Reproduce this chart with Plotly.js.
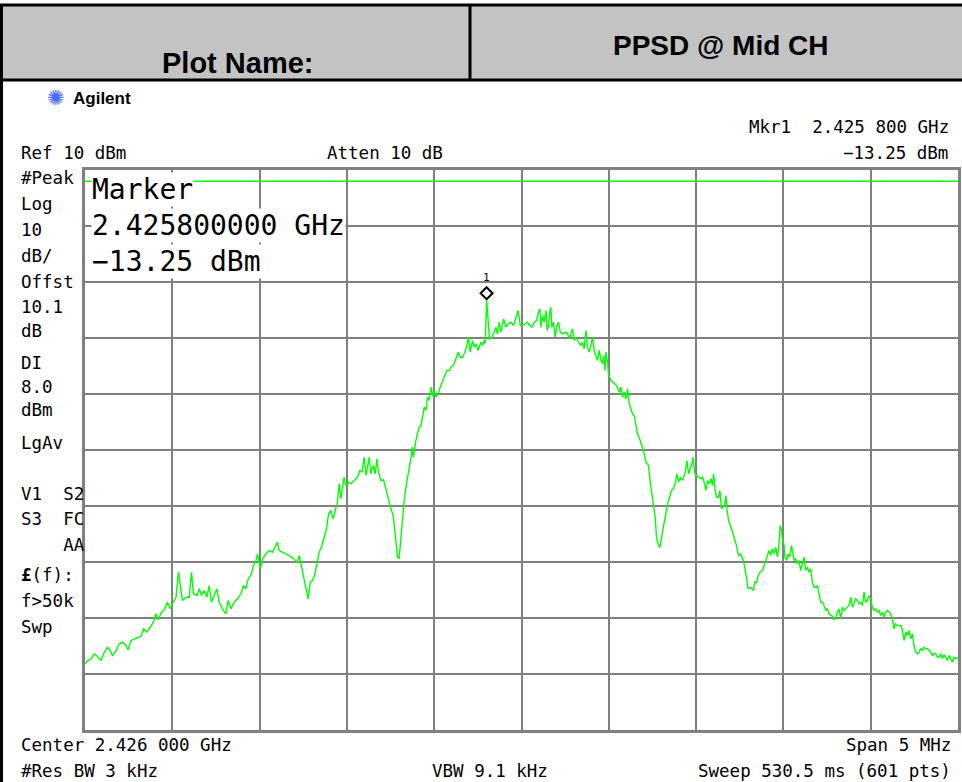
<!DOCTYPE html>
<html>
<head>
<meta charset="utf-8">
<script src="https://cdn.plot.ly/plotly-3.0.1.min.js"></script>
<style>
  html, body { margin: 0; padding: 0; background: #ffffff; }
  #chart { width: 962px; height: 782px; }
</style>
</head>
<body>
<div id="chart"></div>
<script>
// ---------------- data ----------------
const centerGHz = 2.426;
const spanMHz = 5;
const refLevel = 10;        // dBm (top of screen)
const dbPerDiv = 10;
const displayLine = 8.0;    // DL, dBm
const markerFreqGHz = 2.4258;
const markerLevel = -13.25;

const freqOffsetKHz = [
-2500,-2486,-2466,-2447,-2428,-2409,-2390,-2371,-2356,-2343,-2323,-2304,-2285,-2266,-2253,-2237,-2218,-2199,-2180,-2164,
-2146,-2127,-2108,-2094,-2081,-2062,-2046,-2028,-2012,-1999,-1979,-1965,-1955,-1942,-1922,-1903,-1890,-1879,-1859,-1846,
-1833,-1817,-1802,-1789,-1776,-1760,-1745,-1731,-1713,-1693,-1680,-1664,-1646,-1627,-1607,-1592,-1579,-1565,-1550,-1535,
-1521,-1512,-1497,-1483,-1464,-1445,-1426,-1412,-1398,-1388,-1369,-1349,-1331,-1306,
-1283,-1273,-1260,-1245,-1229,-1222,-1210,-1197,-1183,-1172,-1159,-1146,-1130,-1117,-1105,-1092,-1079,-1067,-1054,-1044,
-1034,-1025,-1016,-1006,-991,-977,-958,-939,-926,-914,-901,-891,-882,-872,-863,-849,-838,-828,-819,-805,
-790,-777,-762,-748,-735,-723,-710,-701,-691,-682,-672,-662,-653,-643,-634,-626,-619,-605,-596,-586,
-576,-567,-557,-548,-538,-529,-519,-510,-500,-490,-477,-466,-453,-439,-427,-414,-404,-390,-376,-363,
-351,-338,-324,-313,-304,-294,-281,-271,-261,-248,-233,-223,-214,-208,-200,-192,-183,-175,-160,-147,
-138,-128,-118,-103,-89,-76,-61,-46,-32,-19,
-7,6,21,34,48,60,73,86,97,105,111,120,130,140,147,155,163,168,174,183,
193,203,212,222,235,250,264,273,283,292,302,312,321,331,340,349,359,369,378,388,
398,407,416,426,435,445,455,464,470,478,483,493,498,512,531,544,560,569,579,588,
598,607,617,627,636,646,655,664,674,684,693,703,713,727,741,754,766,773,785,793,
800,812,823,836,846,859,869,880,890,899,909,919,928,938,947,957,966,976,983,991,
999,1014,1028,1037,1046,1056,1065,1075,1085,1094,1100,1109,1117,1128,1136,1146,1155,1163,1171,1176,
1186,1197,1209,1220,1231,1243,
1255,1271,1280,1290,1297,1309,1318,1328,1336,1347,1355,1366,1380,1389,1399,1408,1418,1427,1437,1446,
1456,1466,1475,1481,1489,1494,1503,1509,1519,1526,1536,1546,1553,1561,1570,1580,1589,1599,1609,1618,
1628,1638,1647,1656,1666,1675,1685,1695,1704,1714,1723,1733,1742,1752,1761,1771,1781,1790,1800,1809,
1818,1828,1838,1847,1857,1867,1876,1886,1895,1904,1914,1924,1933,1943,1953,1962,1971,1981,1990,2000,
2010,2019,2029,2038,2048,2057,2067,2076,2086,2096,2105,2115,2124,2134,2143,2153,2162,2172,2182,2191,
2201,2210,2219,2229,2239,2248,2258,2268,2277,2286,2296,2305,2315,2325,2334,2344,2353,2363,2372,2382,
2391,2401,2411,2420,2430,2439,2449,2458,2468,2477,2487,2500
];
const levelDbm = [
-78.18,-77.59,-77.29,-76.39,-76.88,-77.59,-76.11,-75.21,-75.80,-76.70,-75.93,-74.61,-74.32,-74.91,-75.68,-74.02,-73.71,-73.54,-73.30,-71.93,
-72.54,-71.64,-70.75,-69.25,-70.32,-68.96,-68.54,-67.18,-68.36,-67.46,-66.29,-61.82,-64.50,-66.88,-66.29,-66.29,-61.82,-65.68,-65.98,-64.79,
-65.98,-65.09,-66.29,-64.20,-67.18,-65.98,-64.79,-67.18,-68.36,-69.25,-66.88,-68.36,-67.18,-66.57,-65.68,-64.20,-64.79,-63.00,-62.41,-60.63,
-59.73,-58.54,-61.21,-59.43,-58.54,-57.95,-58.25,-57.36,-56.46,-57.95,-58.25,-58.54,-58.84,-59.43,
-60.04,-58.84,-60.93,-62.71,-65.39,-66.57,-63.61,-63.30,-62.11,-60.04,-58.25,-57.36,-55.27,-54.07,-51.39,-50.80,-52.29,-50.80,-49.32,-46.04,
-48.71,-46.64,-44.86,-46.34,-45.75,-46.04,-45.45,-44.86,-43.66,-43.96,-41.29,-44.55,-43.07,-41.29,-44.25,-42.77,-44.25,-41.57,-43.96,-45.45,
-45.32,-46.93,-49.02,-50.50,-51.70,-54.96,-59.14,-59.43,-55.57,-51.39,-49.02,-46.64,-45.14,-43.66,-41.57,-39.50,-41.29,-38.30,-37.11,-35.93,
-35.63,-34.14,-32.36,-32.95,-30.57,-31.16,-28.79,-30.27,-29.38,-30.57,-29.96,-28.79,-27.59,-26.70,-25.80,-25.80,-25.21,-24.91,-23.71,-22.54,
-23.43,-23.43,-22.54,-21.34,-19.86,-22.54,-20.45,-21.64,-21.04,-22.23,-20.75,-21.34,-20.45,-21.00,-13.25,-16.88,-20.14,-20.14,-19.25,-18.07,
-19.25,-17.18,-18.96,-16.57,-18.07,-17.46,-17.18,-17.77,-16.57,-15.09,
-17.77,-17.77,-17.46,-17.18,-17.77,-18.07,-17.18,-16.88,-15.39,-14.79,-18.07,-15.98,-17.18,-15.09,-18.66,-17.77,-15.09,-14.50,-18.07,-17.18,
-19.86,-17.77,-17.18,-18.96,-19.25,-18.96,-19.25,-20.14,-19.25,-18.36,-20.45,-19.86,-20.45,-21.04,-21.34,-20.75,-21.93,-18.66,-21.64,-22.54,
-21.04,-19.86,-22.23,-23.13,-24.02,-22.23,-24.02,-24.61,-23.13,-25.80,-22.54,-24.32,-26.39,-27.59,-28.18,-28.48,-29.68,-28.79,-30.57,-29.68,
-30.86,-29.07,-31.75,-32.95,-33.54,-33.84,-35.63,-37.11,-37.71,-38.61,-39.50,-40.68,-42.18,-42.77,-46.64,-49.61,-52.00,-55.57,-57.05,-57.36,
-55.86,-53.79,-52.00,-49.61,-48.71,-47.23,-46.93,-46.04,-44.25,-45.75,-44.86,-45.45,-44.86,-43.96,-41.88,-44.25,-43.36,-42.46,-41.29,-43.96,
-44.55,-44.86,-45.14,-44.86,-45.75,-47.23,-45.45,-46.04,-45.14,-46.34,-44.25,-47.23,-48.43,-48.43,-47.23,-50.50,-50.21,-49.91,-48.13,-50.50,
-52.59,-53.48,-54.68,-55.86,-57.05,-58.84,
-58.54,-59.73,-61.21,-63.00,-64.79,-64.50,-64.79,-65.09,-63.61,-63.61,-62.41,-61.82,-61.52,-60.63,-60.04,-59.14,-57.95,-58.84,-57.64,-58.54,
-57.36,-59.14,-56.75,-53.48,-54.38,-55.86,-56.75,-59.14,-59.73,-58.54,-59.14,-57.05,-58.54,-59.73,-59.43,-60.32,-59.73,-61.52,-60.32,-59.14,
-61.52,-60.93,-61.82,-61.21,-63.61,-64.50,-64.50,-64.20,-65.68,-67.18,-67.18,-67.77,-68.66,-68.36,-69.25,-69.55,-69.73,-70.32,-69.86,-68.96,
-68.36,-70.14,-68.07,-68.66,-68.36,-68.07,-67.77,-66.29,-68.07,-67.46,-66.57,-66.88,-67.46,-67.18,-67.77,-65.39,-67.18,-66.88,-65.98,-66.57,
-68.07,-68.66,-68.36,-68.96,-68.66,-69.55,-68.96,-69.86,-68.96,-68.66,-68.96,-69.25,-70.14,-71.93,-71.04,-71.34,-71.34,-71.34,-72.23,-74.02,
-72.54,-73.13,-72.23,-73.71,-72.82,-74.91,-76.11,-76.39,-76.11,-75.50,-75.80,-75.21,-75.50,-75.50,-75.80,-76.11,-76.70,-76.29,-76.39,-77.00,
-77.00,-76.39,-77.29,-76.52,-77.00,-77.59,-76.70,-77.29,-77.89,-77.00,-77.29,-77.00
];

// texts
const headerLabel = "Plot Name:";
const headerValue = "PPSD @ Mid CH";
const brand = "Agilent";
const leftInfo = ["#Peak","Log","10","dB/","Offst","10.1","dB","DI","8.0","dBm","LgAv","V1\u00a0\u00a0S2","S3\u00a0\u00a0FC","\u00a0\u00a0\u00a0\u00a0AA","<b>£</b>(f):","f>50k","Swp"];
const leftInfoY = [178,204,230,256,282,307,331,363,387,410,443,494,519,545,575,601,627];
const markerBox = ["Marker","2.425800000\u00a0GHz","\u221213.25\u00a0dBm"];

// ---------------- layout helpers ----------------
const W = 962, H = 782;
const M = {l: 85, r: 4, t: 170, b: 52};
const PW = W - M.l - M.r, PH = H - M.t - M.b;
const px = x => (x - M.l) / PW;
const py = y => (H - M.b - y) / PH;

const x = freqOffsetKHz.map(k => centerGHz + k / 1e6);
const halfSpan = spanMHz / 2 / 1000;

const mono = "DejaVu Sans Mono";
const ann = [];
function txt(t, xp, yp, anchor, size, extra) {
  ann.push(Object.assign({
    text: t, xref: "paper", yref: "paper", x: px(xp), y: py(yp),
    xanchor: anchor, yanchor: "middle", showarrow: false,
    font: {family: mono, size: size, color: "#000"}
  }, extra || {}));
}

// header texts
ann.push({text: "<b>" + headerLabel + "</b>", xref: "paper", yref: "paper", x: px(237), y: py(63),
  xanchor: "center", yanchor: "middle", showarrow: false,
  font: {family: "Liberation Sans, Arial", size: 29, color: "#000"}});
ann.push({text: "<b>" + headerValue + "</b>", xref: "paper", yref: "paper", x: px(721), y: py(46),
  xanchor: "center", yanchor: "middle", showarrow: false,
  font: {family: "Liberation Sans, Arial", size: 28, color: "#000"}});
ann.push({text: "<b>" + brand + "</b>", xref: "paper", yref: "paper", x: px(71), y: py(98),
  xanchor: "left", yanchor: "middle", showarrow: false,
  font: {family: "Liberation Sans, Arial", size: 17, color: "#000"}});
ann.push({text: "\u273A", xref: "paper", yref: "paper", x: px(56), y: py(98),
  xanchor: "center", yanchor: "middle", showarrow: false,
  font: {family: "DejaVu Sans", size: 21, color: "#4a6cff"}});

// instrument annotation texts
const fs = 17.5;
txt("Mkr1\u00a0\u00a02.425\u00a0800\u00a0GHz", 951, 127, "right", fs);
txt("\u221213.25\u00a0dBm", 950, 153, "right", fs);
txt("Ref\u00a010\u00a0dBm", 19, 153, "left", fs);
txt("Atten\u00a010\u00a0dB", 325, 153, "left", fs);
leftInfo.forEach((t, i) => txt(t, 19, leftInfoY[i], "left", fs));
txt("Center\u00a02.426\u00a0000\u00a0GHz", 19, 745, "left", fs);
txt("Span\u00a05\u00a0MHz", 953, 745, "right", fs);
txt("#Res\u00a0BW\u00a03\u00a0kHz", 19, 771, "left", fs);
txt("VBW\u00a09.1\u00a0kHz", 430, 771, "left", fs);
txt("Sweep\u00a0530.5\u00a0ms\u00a0(601\u00a0pts)", 953, 771, "right", fs);

// marker readout block (opaque rows)
[189, 225, 261].forEach((yy, i) => {
  txt(markerBox[i], 91, yy, "left", 28, {bgcolor: "#ffffff", borderpad: 0});
});

// marker label "1"
ann.push({text: "1", xref: "x", yref: "y", x: markerFreqGHz, y: markerLevel, yshift: 23,
  xanchor: "center", yanchor: "middle", showarrow: false,
  font: {family: mono, size: 11, color: "#000"}});

const shapes = [
  // header band
  {type: "rect", xref: "paper", yref: "paper", x0: px(0), x1: px(962), y0: py(80), y1: py(5),
   fillcolor: "#c3c3c3", line: {width: 0}},
  {type: "line", xref: "paper", yref: "paper", x0: px(0), x1: px(962), y0: py(5), y1: py(5),
   line: {color: "#000", width: 3}},
  {type: "line", xref: "paper", yref: "paper", x0: px(0), x1: px(962), y0: py(80), y1: py(80),
   line: {color: "#000", width: 3}},
  {type: "line", xref: "paper", yref: "paper", x0: px(470), x1: px(470), y0: py(5), y1: py(80),
   line: {color: "#000", width: 3}},
  {type: "line", xref: "paper", yref: "paper", x0: px(1.5), x1: px(1.5), y0: py(4), y1: py(782),
   line: {color: "#000", width: 3}},
  // display line
  {type: "line", xref: "paper", yref: "y", x0: 0, x1: 1, y0: displayLine, y1: displayLine,
   line: {color: "#00ff00", width: 1.5}},
  // marker diamond
  {type: "path", xref: "x", yref: "y", xsizemode: "pixel", ysizemode: "pixel",
   xanchor: markerFreqGHz, yanchor: markerLevel,
   path: "M 0 1 L 6 7 L 0 13 L -6 7 Z", line: {color: "#000", width: 2}, fillcolor: "#ffffff"}
];

const trace = {
  x: x, y: levelDbm, type: "scatter", mode: "lines",
  line: {color: "#00ff00", width: 1.4}, hoverinfo: "skip", showlegend: false
};

const axisCommon = {
  showticklabels: false, ticks: "", zeroline: false,
  showgrid: true, gridcolor: "#808080", gridwidth: 2,
  showline: true, linecolor: "#808080", linewidth: 3, mirror: true, fixedrange: true
};

const layout = {
  width: W, height: H,
  margin: M,
  paper_bgcolor: "#ffffff", plot_bgcolor: "#ffffff",
  showlegend: false,
  xaxis: Object.assign({}, axisCommon, {
    range: [centerGHz - halfSpan, centerGHz + halfSpan],
    tick0: centerGHz, dtick: halfSpan / 5
  }),
  yaxis: Object.assign({}, axisCommon, {
    range: [refLevel - 10 * dbPerDiv, refLevel],
    tick0: refLevel, dtick: dbPerDiv
  }),
  annotations: ann,
  shapes: shapes
};

Plotly.newPlot("chart", [trace], layout, {displayModeBar: false, staticPlot: true});
</script>
</body>
</html>
